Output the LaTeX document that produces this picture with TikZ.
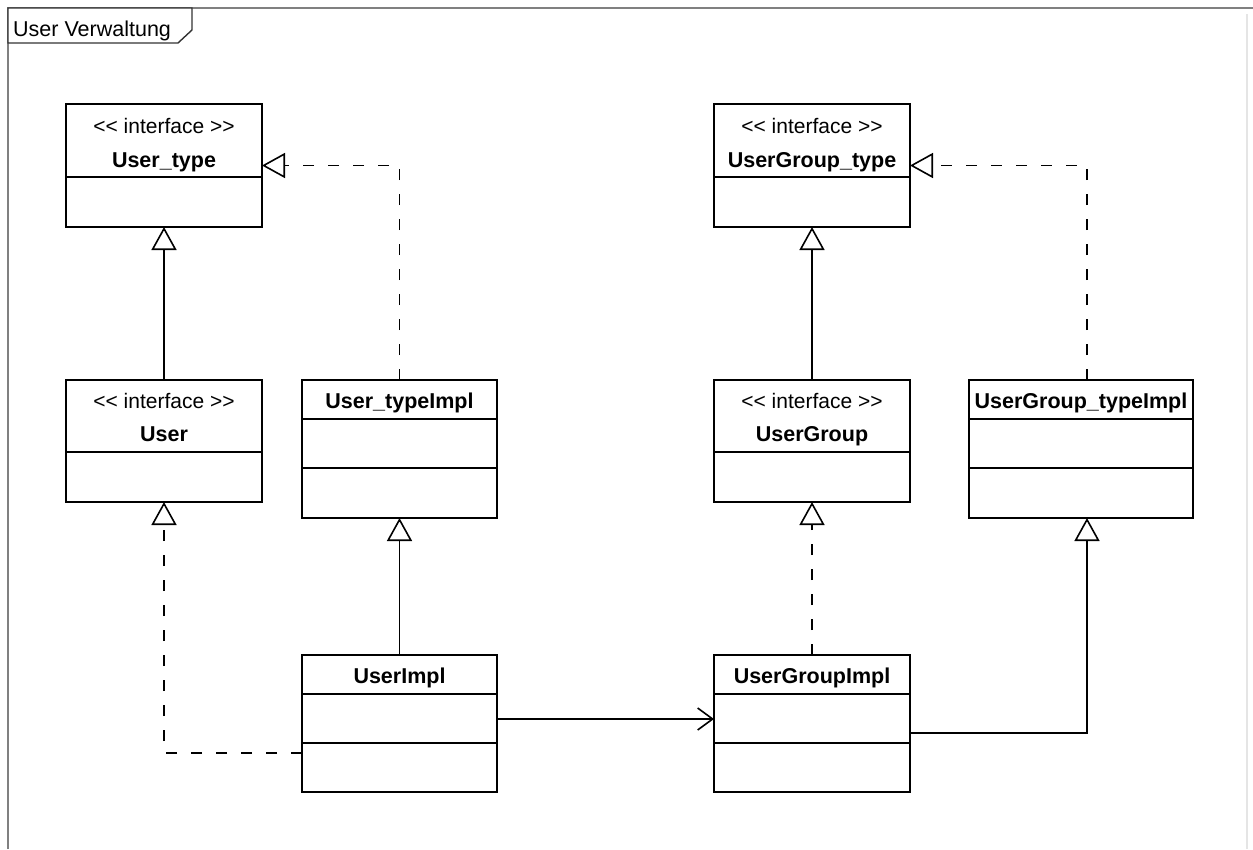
\documentclass[tikz,border=0pt]{standalone}
\usepackage{fontspec}
\setmainfont{Liberation Sans}
\usetikzlibrary{arrows.meta}

\begin{document}
\begin{tikzpicture}[x=1pt,y=-1pt,
  every node/.style={font=\fontsize{21}{25}\selectfont},
  cls/.style={draw=black, line width=1.8pt, fill=white, anchor=north west,
              inner sep=0pt, outer sep=0pt},
  divider/.style={draw=black, line width=1.8pt},
  stereo/.style={anchor=base, inner sep=0pt},
  cname/.style={anchor=base, inner sep=0pt, font=\fontsize{21.5}{25}\selectfont\bfseries},
  conn/.style={draw=black, line width=1.8pt},
  gen/.style={conn, -{Triangle[open, length=23pt, width=25pt, line width=1.6pt]}},
  real/.style={gen, dash pattern=on 11pt off 14pt},
  assoc/.style={conn, -{Straight Barb[length=15pt, width=22pt, line width=1.6pt]}},
  framecol/.style={draw=black!50, line width=2pt}
]
\useasboundingbox (0,0) rectangle (1253,849);

% package frame
\draw[framecol] (8,849) -- (8,8) -- (1253,8);
\draw[draw=black!10, line width=1.5pt] (1247,14) -- (1247,849);
\draw[draw=black!80, line width=1.4pt, fill=white]
  (8,8) -- (192,8) -- (192,30) -- (178,43) -- (8,43) -- cycle;
\node[anchor=base west, inner sep=0pt, font=\fontsize{21.5}{25}\selectfont]
  (pkg) at (13,36) {User Verwaltung};

% class boxes
\node[cls, minimum width=196pt, minimum height=123pt] (ut)   at (66,104)  {};
\node[cls, minimum width=196pt, minimum height=122pt] (u)    at (66,380)  {};
\node[cls, minimum width=195pt, minimum height=138pt] (uti)  at (302,380) {};
\node[cls, minimum width=195pt, minimum height=137pt] (ui)   at (302,655) {};
\node[cls, minimum width=196pt, minimum height=123pt] (ugt)  at (714,104) {};
\node[cls, minimum width=196pt, minimum height=122pt] (ug)   at (714,380) {};
\node[cls, minimum width=224pt, minimum height=138pt] (ugti) at (969,380) {};
\node[cls, minimum width=196pt, minimum height=137pt] (ugi)  at (714,655) {};

% compartment dividers
\foreach \b/\d in {ut/73, u/72, ugt/73, ug/72}
  \draw[divider] ([yshift=-\d pt]\b.north west) -- ([yshift=-\d pt]\b.north east);
\foreach \b in {uti, ugti, ui, ugi} {
  \draw[divider] ([yshift=-39pt]\b.north west) -- ([yshift=-39pt]\b.north east);
  \draw[divider] ([yshift=-88pt]\b.north west) -- ([yshift=-88pt]\b.north east);
}

% class labels
\node[stereo] (ut-s)  at ([yshift=-29pt]ut.north)  {<\kern0pt< interface >\kern0pt>};
\node[cname]  (ut-n)  at ([yshift=-63pt]ut.north)  {User\_type};
\node[stereo] (u-s)   at ([yshift=-28pt]u.north)   {<\kern0pt< interface >\kern0pt>};
\node[cname]  (u-n)   at ([yshift=-61pt]u.north)   {User};
\node[cname]  (uti-n) at ([yshift=-28pt]uti.north) {User\_typeImpl};
\node[cname]  (ui-n)  at ([yshift=-28pt]ui.north)  {UserImpl};
\node[stereo] (ugt-s) at ([yshift=-29pt]ugt.north) {<\kern0pt< interface >\kern0pt>};
\node[cname]  (ugt-n) at ([yshift=-63pt]ugt.north) {UserGroup\_type};
\node[stereo] (ug-s)  at ([yshift=-28pt]ug.north)  {<\kern0pt< interface >\kern0pt>};
\node[cname]  (ug-n)  at ([yshift=-61pt]ug.north)  {UserGroup};
\node[cname]  (ugti-n) at ([yshift=-28pt]ugti.north) {UserGroup\_typeImpl};
\node[cname]  (ugi-n) at ([yshift=-28pt]ugi.north) {UserGroupImpl};

% generalizations and realizations
\draw[gen]  (u.north) -- (ut.south);
\draw[real] (uti.north) |- (ut.east);
\draw[gen]  (ui.north) -- (uti.south);
\draw[real] ([yshift=-29.5pt]ui.west) -| (u.south);
\draw[gen]  (ug.north) -- (ugt.south);
\draw[real] ([xshift=6pt]ugti.north) |- (ugt.east);
\draw[real] (ugi.north) -- (ug.south);
\draw[gen]  ([yshift=-9.5pt]ugi.east) -| ([xshift=6pt]ugti.south);

% association
\draw[assoc] ([yshift=4.5pt]ui.east) -- ([yshift=4.5pt]ugi.west);
\end{tikzpicture}
\end{document}
